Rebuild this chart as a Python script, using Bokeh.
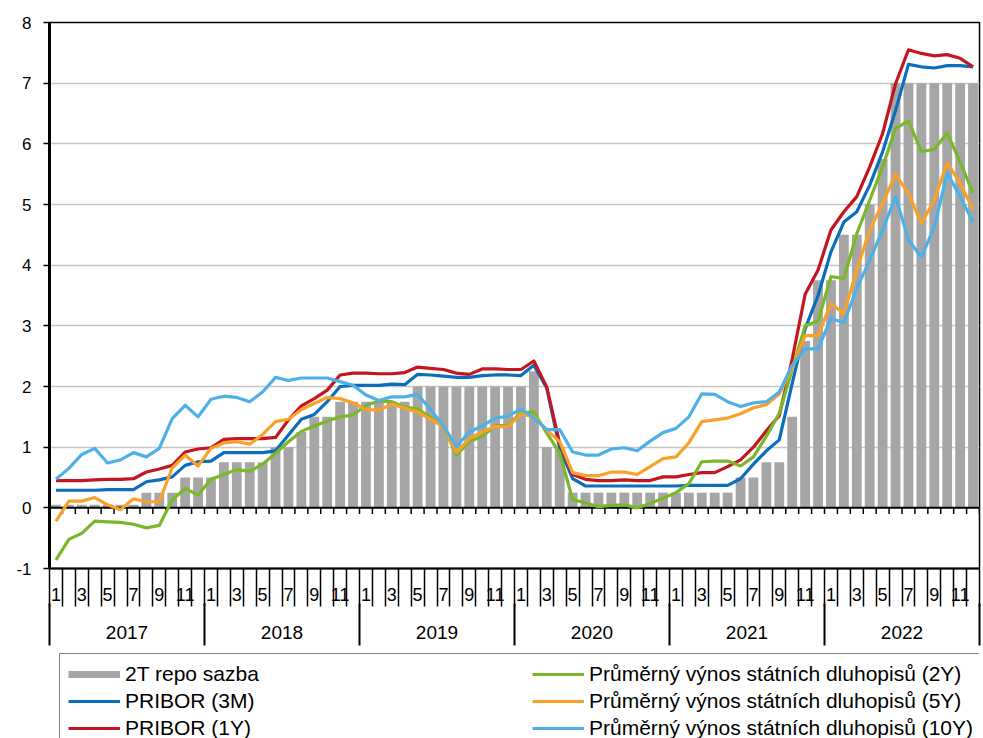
from bokeh.plotting import figure
from bokeh.layouts import column
from bokeh.models import Range1d, LinearAxis, FixedTicker, Legend, LegendItem
from bokeh.embed import file_html
from bokeh.resources import INLINE

FONT = "Liberation Sans"

years = ["2017", "2018", "2019", "2020", "2021", "2022"]
month_labels = ["1", "", "3", "", "5", "", "7", "", "9", "", "11", ""]

repo = [0.05, 0.05, 0.05, 0.05, 0.05, 0.05, 0.05, 0.25, 0.25, 0.25, 0.5, 0.5,
        0.5, 0.75, 0.75, 0.75, 0.75, 1.0, 1.0, 1.25, 1.5, 1.5, 1.75, 1.75,
        1.75, 1.75, 1.75, 1.75, 2.0, 2.0, 2.0, 2.0, 2.0, 2.0, 2.0, 2.0,
        2.0, 2.25, 1.0, 1.0, 0.25, 0.25, 0.25, 0.25, 0.25, 0.25, 0.25, 0.25,
        0.25, 0.25, 0.25, 0.25, 0.25, 0.5, 0.5, 0.75, 0.75, 1.5, 2.75, 3.75,
        3.75, 4.5, 4.5, 5.0, 5.75, 7.0, 7.0, 7.0, 7.0, 7.0, 7.0, 7.0]

pribor_3m = [0.29, 0.29, 0.29, 0.29, 0.30, 0.30, 0.30, 0.43, 0.46, 0.51, 0.70, 0.76,
             0.77, 0.91, 0.91, 0.91, 0.91, 0.94, 1.20, 1.46, 1.54, 1.75, 2.00, 2.02,
             2.02, 2.02, 2.04, 2.03, 2.20, 2.19, 2.17, 2.15, 2.15, 2.18, 2.19, 2.19,
             2.18, 2.35, 1.97, 0.98, 0.48, 0.36, 0.36, 0.36, 0.36, 0.36, 0.36, 0.36,
             0.36, 0.37, 0.37, 0.37, 0.37, 0.48, 0.72, 0.94, 1.12, 2.05, 2.95, 3.50,
             4.22, 4.71, 4.88, 5.32, 5.87, 6.55, 7.31, 7.27, 7.25, 7.29, 7.29, 7.27]

pribor_1y = [0.45, 0.45, 0.45, 0.46, 0.47, 0.47, 0.48, 0.59, 0.64, 0.70, 0.92, 0.97,
             0.99, 1.13, 1.14, 1.14, 1.14, 1.16, 1.45, 1.68, 1.80, 1.94, 2.19, 2.22,
             2.22, 2.21, 2.21, 2.23, 2.32, 2.30, 2.28, 2.22, 2.20, 2.29, 2.29, 2.28,
             2.28, 2.42, 1.99, 1.06, 0.55, 0.47, 0.45, 0.45, 0.46, 0.45, 0.45, 0.51,
             0.51, 0.55, 0.58, 0.58, 0.68, 0.79, 1.00, 1.27, 1.52, 2.45, 3.52, 3.92,
             4.58, 4.88, 5.13, 5.62, 6.17, 6.99, 7.55, 7.49, 7.45, 7.47, 7.41, 7.27]

bond_2y = [-0.86, -0.52, -0.42, -0.22, -0.23, -0.24, -0.27, -0.33, -0.29, 0.13, 0.32, 0.21,
           0.47, 0.55, 0.63, 0.60, 0.72, 0.90, 1.09, 1.26, 1.35, 1.43, 1.50, 1.53,
           1.69, 1.76, 1.75, 1.66, 1.63, 1.49, 1.35, 0.87, 1.09, 1.18, 1.35, 1.36,
           1.57, 1.58, 1.23, 0.90, 0.14, 0.08, 0.02, 0.04, 0.05, 0.00, 0.07, 0.16,
           0.25, 0.40, 0.76, 0.77, 0.77, 0.69, 0.84, 1.18, 1.56, 2.28, 3.00, 3.08,
           3.81, 3.78, 4.52, 5.07, 5.62, 6.25, 6.38, 5.87, 5.91, 6.18, 5.70, 5.19]

bond_5y = [-0.22, 0.11, 0.11, 0.17, 0.05, -0.03, 0.15, 0.10, 0.10, 0.66, 0.87, 0.69,
           0.98, 1.07, 1.09, 1.05, 1.21, 1.42, 1.46, 1.62, 1.72, 1.82, 1.80, 1.73,
           1.62, 1.61, 1.71, 1.64, 1.58, 1.46, 1.34, 0.91, 1.14, 1.25, 1.34, 1.34,
           1.55, 1.50, 1.28, 1.09, 0.58, 0.53, 0.53, 0.59, 0.59, 0.55, 0.68, 0.81,
           0.84, 1.07, 1.42, 1.45, 1.48, 1.55, 1.65, 1.70, 1.88, 2.30, 2.84, 2.84,
           3.37, 3.20, 3.92, 4.58, 5.02, 5.50, 5.18, 4.69, 5.07, 5.69, 5.35, 4.92]

bond_10y = [0.47, 0.65, 0.88, 0.98, 0.74, 0.79, 0.91, 0.84, 0.98, 1.47, 1.69, 1.50,
            1.79, 1.84, 1.82, 1.75, 1.91, 2.15, 2.10, 2.14, 2.14, 2.14, 2.08, 2.02,
            1.86, 1.77, 1.83, 1.83, 1.87, 1.62, 1.35, 1.01, 1.25, 1.35, 1.48, 1.51,
            1.63, 1.48, 1.29, 1.29, 0.92, 0.87, 0.87, 0.97, 0.99, 0.94, 1.10, 1.24,
            1.31, 1.50, 1.88, 1.87, 1.75, 1.67, 1.73, 1.75, 1.91, 2.35, 2.62, 2.62,
            3.12, 3.05, 3.62, 4.08, 4.58, 5.13, 4.42, 4.13, 4.63, 5.52, 5.13, 4.71]

y_ticks = [-1, 0, 1, 2, 3, 4, 5, 6, 7, 8]

labels = ["2T repo sazba", "PRIBOR (3M)", "PRIBOR (1Y)",
          "Průměrný výnos státních dluhopisů (2Y)",
          "Průměrný výnos státních dluhopisů (5Y)",
          "Průměrný výnos státních dluhopisů (10Y)"]

BAR_COLOR = "#a6a6a6"
colors = ["#0a6ebd", "#c3161f", "#7ab829", "#f9a12b", "#4db1e8"]
series = [pribor_3m, pribor_1y, bond_2y, bond_5y, bond_10y]

n = len(repo)
xc = [i + 0.5 for i in range(n)]

W = 983
H_MAIN = 650
H_LEG = 738 - H_MAIN

p = figure(width=W, height=H_MAIN, x_range=Range1d(0, n), y_range=Range1d(-1, 8),
           output_backend="svg", toolbar_location=None,
           x_axis_location=None, y_axis_location="left",
           min_border_left=49, min_border_right=4, min_border_top=22,
           min_border_bottom=H_MAIN - 568)

p.outline_line_color = "black"
p.outline_line_width = 1.5
p.background_fill_color = "white"
p.border_fill_color = "white"

# Y axis
ya = p.yaxis[0]
ya.ticker = FixedTicker(ticks=y_ticks)
ya.major_label_overrides = {t: str(t) for t in y_ticks}
ya.major_tick_out = 6
ya.major_tick_in = 0
ya.major_tick_line_width = 1.5
ya.minor_tick_out = 0
ya.minor_tick_in = 0
ya.axis_line_width = 3
ya.major_label_standoff = 12
ya.major_label_text_font = FONT
ya.major_label_text_font_size = "17px"
ya.major_label_text_color = "black"

p.ygrid.ticker = FixedTicker(ticks=y_ticks)
p.ygrid.grid_line_color = "#c6c6c6"
p.ygrid.grid_line_width = 1.5
p.xgrid.visible = False

# Month axis (category level 1)
month_pos = []
month_over = {}
for yi in range(len(years)):
    for mi, lab in enumerate(month_labels):
        if lab:
            pos = yi * 12 + mi + 0.5
            month_pos.append(pos)
            month_over[pos] = lab

month_axis = LinearAxis(ticker=FixedTicker(ticks=month_pos, minor_ticks=list(range(n + 1))),
                        major_label_overrides=month_over,
                        major_tick_out=0, major_tick_in=0,
                        minor_tick_out=38, minor_tick_in=0,
                        minor_tick_line_width=1.5, minor_tick_line_color="black",
                        axis_line_width=2, axis_line_color="black",
                        major_label_standoff=-19,
                        major_label_text_font=FONT, major_label_text_font_size="18px",
                        major_label_text_color="black")
p.add_layout(month_axis, "below")

# Year axis (category level 2)
year_pos = [yi * 12 + 6 for yi in range(len(years))]
year_over = {pos: y for pos, y in zip(year_pos, years)}
year_axis = LinearAxis(ticker=FixedTicker(ticks=year_pos,
                                          minor_ticks=[yi * 12 for yi in range(len(years) + 1)]),
                       major_label_overrides=year_over,
                       major_tick_out=0, major_tick_in=0,
                       minor_tick_out=42, minor_tick_in=0,
                       minor_tick_line_width=2, minor_tick_line_color="black",
                       axis_line_color=None,
                       major_label_standoff=-20,
                       major_label_text_font=FONT, major_label_text_font_size="19px",
                       major_label_text_color="black")
p.add_layout(year_axis, "below")

# Bars
p.vbar(x=xc, top=repo, bottom=0, width=0.76, fill_color=BAR_COLOR, line_color=None)

# Zero axis line with ticks
bounds = list(range(n + 1))
p.segment(x0=[0], y0=[0], x1=[n], y1=[0], line_color="black", line_width=2)
p.segment(x0=bounds, y0=[0] * len(bounds), x1=bounds, y1=[-0.1] * len(bounds),
          line_color="black", line_width=1.5)

lw = 3.2
for s, c in zip(series, colors):
    p.line(xc, s, line_color=c, line_width=lw, line_join="round")

# Legend strip under the chart
pl = figure(width=W, height=H_LEG, x_range=Range1d(0, 1), y_range=Range1d(0, 1),
            output_backend="svg", toolbar_location=None,
            x_axis_location=None, y_axis_location=None, min_border=0,
            outline_line_color=None)
pl.grid.visible = False
pl.background_fill_color = "white"
pl.border_fill_color = "white"

nan = float("nan")
leg_renderers = [pl.line(x=[nan], y=[nan], line_color=BAR_COLOR, line_width=7, line_cap="butt")]
for c in colors:
    leg_renderers.append(pl.line(x=[nan], y=[nan], line_color=c, line_width=lw))

legend = Legend(items=[LegendItem(label=l, renderers=[r]) for l, r in zip(labels, leg_renderers)],
                location=(10, -11), nrows=3, orientation="vertical",
                glyph_width=52, glyph_height=12, label_standoff=5, label_width=404,
                label_height=24, spacing=3, padding=8, margin=0,
                border_line_color="black", border_line_width=1.5,
                label_text_font=FONT, label_text_font_size="21px", label_text_color="black",
                background_fill_color="white", background_fill_alpha=1)
pl.add_layout(legend)

layout = column(p, pl, spacing=0)
open("out.html", "w").write(file_html(layout, INLINE))
